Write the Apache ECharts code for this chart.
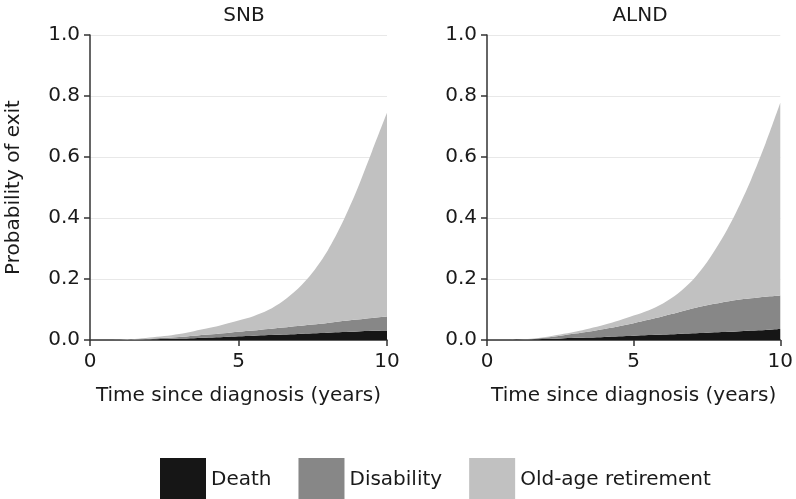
<!DOCTYPE html>
<html>
<head>
<meta charset="utf-8">
<script src="https://cdn.jsdelivr.net/npm/echarts@6/dist/echarts.min.js"></script>
<style>
  html, body { margin: 0; padding: 0; background: #fff; }
  #chart { width: 796px; height: 499px; }
</style>
</head>
<body>
<div id="chart"></div>
<script>
// years since diagnosis, half-year steps
const years = ["0", "0.5", "1", "1.5", "2", "2.5", "3", "3.5", "4", "4.5", "5",
  "5.5", "6", "6.5", "7", "7.5", "8", "8.5", "9", "9.5", "10"];

// SNB – probability of exit by cause (stacked components)
const snbDeath      = [0, 0, 0, 0.001, 0.002, 0.003, 0.005, 0.006, 0.008, 0.010, 0.012,
  0.014, 0.016, 0.018, 0.020, 0.022, 0.024, 0.026, 0.028, 0.030, 0.031];
const snbDisability = [0, 0, 0.001, 0.001, 0.002, 0.004, 0.005, 0.008, 0.010, 0.012, 0.015,
  0.017, 0.020, 0.023, 0.026, 0.029, 0.032, 0.036, 0.039, 0.042, 0.046];
const snbOldAge     = [0, 0, 0, 0.001, 0.004, 0.006, 0.010, 0.015, 0.021, 0.029, 0.037,
  0.047, 0.062, 0.087, 0.122, 0.171, 0.237, 0.323, 0.428, 0.548, 0.668];

// ALND
const alndDeath      = [0, 0, 0.001, 0.002, 0.003, 0.005, 0.007, 0.008, 0.010, 0.012, 0.014,
  0.016, 0.018, 0.020, 0.022, 0.024, 0.026, 0.028, 0.031, 0.033, 0.036];
const alndDisability = [0, 0, 0, 0.001, 0.005, 0.009, 0.014, 0.020, 0.026, 0.033, 0.041,
  0.050, 0.060, 0.070, 0.081, 0.090, 0.097, 0.103, 0.106, 0.109, 0.110];
const alndOldAge     = [0, 0, 0, 0.001, 0.002, 0.004, 0.006, 0.010, 0.014, 0.019, 0.025,
  0.031, 0.042, 0.062, 0.092, 0.141, 0.207, 0.289, 0.388, 0.503, 0.632];

const causes = ["Death", "Disability", "Old-age retirement"];
const colors = ["#161616", "#878787", "#c1c1c1"];
const panels = ["SNB", "ALND"];

const font = "DejaVu Sans, sans-serif";
const ink = "#1a1a1a";
const el = document.getElementById("chart");
const chart = echarts.init(el, null, { renderer: "canvas" });

function xAxis(gi) {
  return {
    type: "category", gridIndex: gi, data: years, boundaryGap: false,
    name: "Time since diagnosis (years)", nameLocation: "middle", nameGap: 46,
    nameTextStyle: { fontFamily: font, fontSize: 20, color: ink },
    axisLine: { show: true, lineStyle: { color: "#333", width: 1.5 } },
    axisTick: { show: true, length: 6, interval: 9, lineStyle: { color: "#333", width: 1.5 } },
    axisLabel: { fontFamily: font, fontSize: 20, color: ink, margin: 12, interval: 9 },
    splitLine: { show: false },
  };
}

function yAxis(gi) {
  return {
    type: "value", gridIndex: gi, min: 0, max: 1, interval: 0.2,
    name: gi === 0 ? "Probability of exit" : "", nameLocation: "middle", nameGap: 66,
    nameTextStyle: { fontFamily: font, fontSize: 20, color: ink },
    axisLine: { show: true, lineStyle: { color: "#333", width: 1.5 } },
    axisTick: { show: true, length: 6, lineStyle: { color: "#333", width: 1.5 } },
    axisLabel: { fontFamily: font, fontSize: 20, color: ink, margin: 10,
      formatter: (v) => v.toFixed(1) },
    splitLine: { show: true, lineStyle: { color: "#e8e8e8", width: 1 } },
  };
}

function areaSeries(name, vals, gi, ci) {
  return {
    name, type: "line", xAxisIndex: gi, yAxisIndex: gi,
    stack: "p" + gi, smooth: 0.3, symbol: "none",
    data: vals,
    lineStyle: { width: 0 },
    itemStyle: { color: colors[ci] },
    areaStyle: { color: colors[ci], opacity: 1 },
    emphasis: { disabled: true },
  };
}

chart.setOption({
  animation: false,
  backgroundColor: "#fff",
  title: [
    { text: panels[0], left: 239, top: 1, textAlign: "center",
      textStyle: { fontFamily: font, fontSize: 20, fontWeight: "normal", color: ink } },
    { text: panels[1], left: 635, top: 1, textAlign: "center",
      textStyle: { fontFamily: font, fontSize: 20, fontWeight: "normal", color: ink } },
  ],
  legend: {
    data: causes, left: 155, top: 453, itemWidth: 46, itemHeight: 44, itemGap: 27,
    icon: "rect", selectedMode: false,
    textStyle: { fontFamily: font, fontSize: 20, color: ink },
  },
  grid: [
    { left: 90, top: 35, width: 297, height: 305 },
    { left: 487, top: 35, width: 295, height: 305 },
  ],
  xAxis: [xAxis(0), xAxis(1)],
  yAxis: [yAxis(0), yAxis(1)],
  series: [
    areaSeries(causes[0], snbDeath, 0, 0),
    areaSeries(causes[1], snbDisability, 0, 1),
    areaSeries(causes[2], snbOldAge, 0, 2),
    areaSeries(causes[0], alndDeath, 1, 0),
    areaSeries(causes[1], alndDisability, 1, 1),
    areaSeries(causes[2], alndOldAge, 1, 2),
  ],
});

window.addEventListener("resize", () => chart.resize());
</script>
</body>
</html>
